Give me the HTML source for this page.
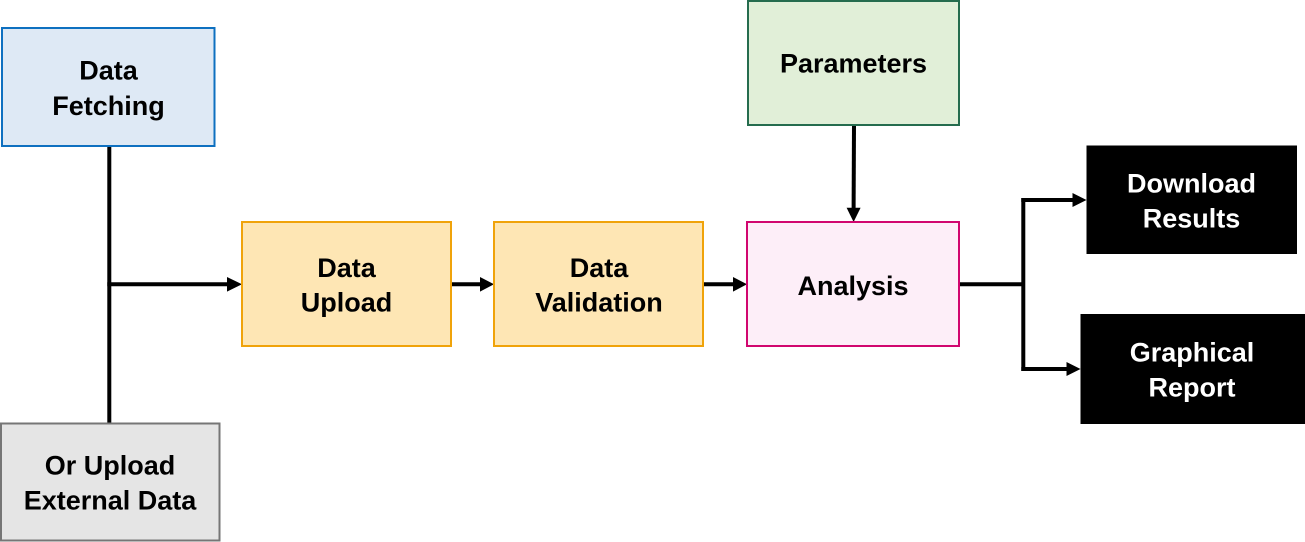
<!DOCTYPE html>
<html>
<head>
<meta charset="utf-8">
<style>
html,body{margin:0;padding:0;background:#fff;}
svg{display:block;}
text{font-family:"Liberation Sans",Arial,sans-serif;font-weight:bold;font-size:27px;text-anchor:middle;}
</style>
</head>
<body>
<svg width="1305" height="542" viewBox="0 0 1305 542" xmlns="http://www.w3.org/2000/svg">
  <!-- connectors -->
  <g stroke="#000" stroke-width="4" fill="none">
    <line x1="109.3" y1="146" x2="109.3" y2="423"/>
    <line x1="107.3" y1="284.3" x2="229" y2="284.3"/>
    <line x1="451" y1="284.3" x2="481" y2="284.3"/>
    <line x1="703" y1="284.3" x2="734" y2="284.3"/>
    <line x1="854" y1="125" x2="853.6" y2="209"/>
    <line x1="959" y1="284.3" x2="1025" y2="284.3"/>
    <line x1="1023.3" y1="198" x2="1023.3" y2="371"/>
    <line x1="1021.3" y1="200" x2="1074" y2="200"/>
    <line x1="1021.3" y1="369" x2="1068" y2="369"/>
  </g>
  <g fill="#000">
    <polygon points="227,277 242,284.3 227,291.6"/>
    <polygon points="480,277 494,284.3 480,291.6"/>
    <polygon points="733,277 747,284.3 733,291.6"/>
    <polygon points="846.6,207.7 860.6,207.7 853.6,222"/>
    <polygon points="1072.5,193 1086.5,200 1072.5,207"/>
    <polygon points="1066.5,362 1080.5,369 1066.5,376"/>
  </g>

  <!-- Data Fetching -->
  <rect x="2" y="28" width="212.5" height="118" fill="#dee9f5" stroke="#0e70c0" stroke-width="2"/>
  <text x="108.5" y="79.5">Data</text>
  <text x="108.5" y="115">Fetching</text>

  <!-- Data Upload -->
  <rect x="242" y="222" width="209" height="124" fill="#fee6b4" stroke="#f0a30a" stroke-width="2"/>
  <text x="346.5" y="277">Data</text>
  <text x="346.5" y="311.7">Upload</text>

  <!-- Data Validation -->
  <rect x="494" y="222" width="209" height="124" fill="#fee6b4" stroke="#f0a30a" stroke-width="2"/>
  <text x="599" y="277">Data</text>
  <text x="599" y="311.7">Validation</text>

  <!-- Parameters -->
  <rect x="748" y="1" width="211" height="124" fill="#e1efd8" stroke="#256c4e" stroke-width="2"/>
  <text x="853.5" y="72.7">Parameters</text>

  <!-- Analysis -->
  <rect x="747" y="222" width="212" height="124" fill="#fdeef8" stroke="#d1066f" stroke-width="2"/>
  <text x="853" y="295">Analysis</text>

  <!-- Download Results -->
  <rect x="1086.5" y="145.5" width="210.5" height="108.5" fill="#000"/>
  <text x="1191.5" y="192.5" fill="#fff">Download</text>
  <text x="1191.5" y="227.3" fill="#fff">Results</text>

  <!-- Graphical Report -->
  <rect x="1080.5" y="314" width="224.5" height="110" fill="#000"/>
  <text x="1192" y="361.7" fill="#fff">Graphical</text>
  <text x="1192" y="396.7" fill="#fff">Report</text>

  <!-- Or Upload External Data -->
  <rect x="1" y="423.5" width="218.5" height="117" fill="#e5e5e5" stroke="#767676" stroke-width="2"/>
  <text x="110" y="474.3">Or Upload</text>
  <text x="110" y="509.3">External Data</text>
</svg>
</body>
</html>
